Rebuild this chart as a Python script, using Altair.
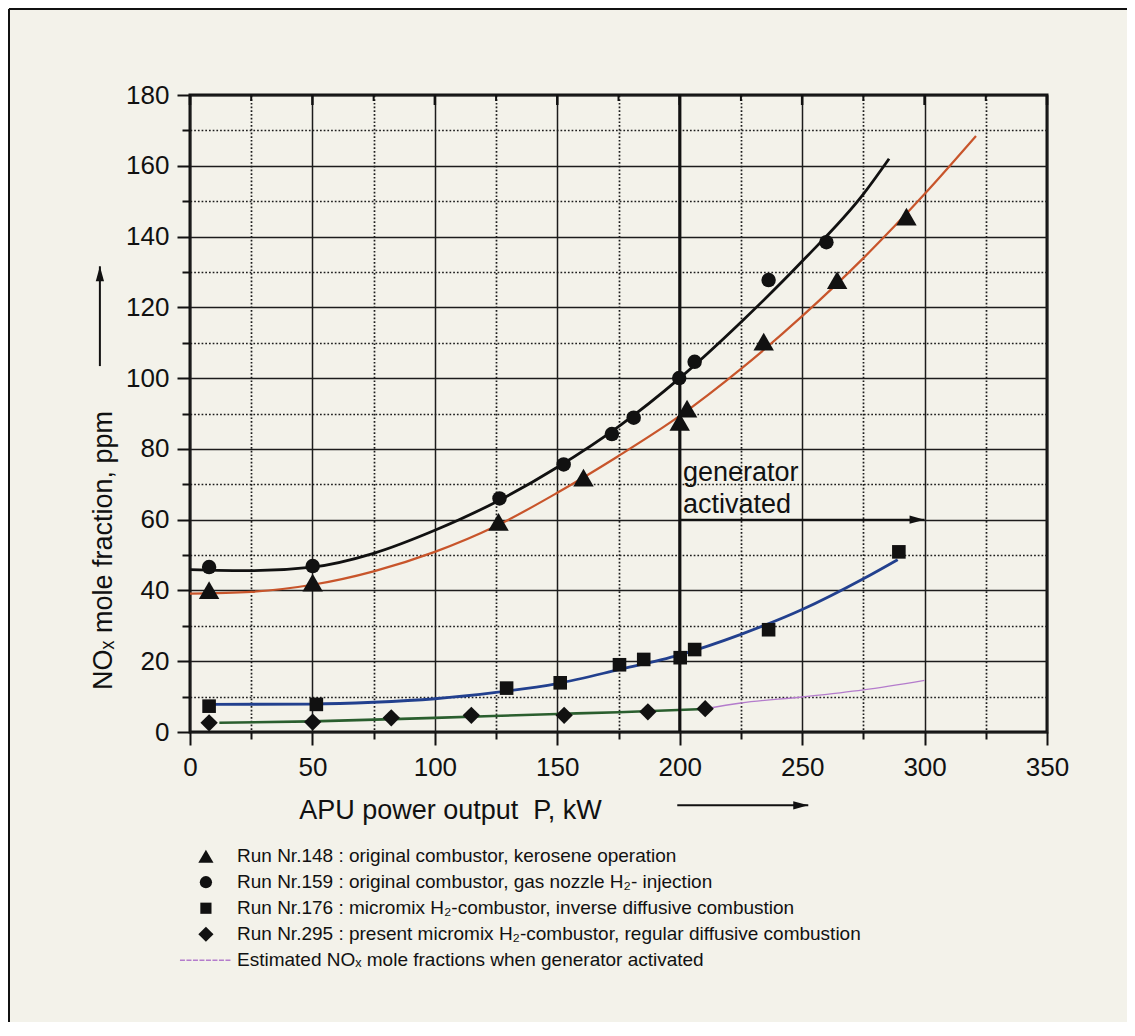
import altair as alt
import pandas as pd

# ---------------- data ----------------
# measured points (x = APU power output in kW, y = NOx mole fraction in ppm)
run148_x = [7.8, 50.1, 126.0, 160.7, 200.0, 203.0, 234.3, 264.3, 292.6]
run148_y = [40.1, 42.2, 59.4, 71.9, 87.6, 91.4, 110.3, 127.7, 145.6]
run159_x = [7.8, 50.1, 126.4, 152.6, 172.3, 181.2, 199.8, 206.1, 236.3, 259.9]
run159_y = [46.6, 46.9, 66.0, 75.6, 84.2, 88.8, 100.0, 104.6, 127.7, 138.4]
run176_x = [7.8, 51.6, 129.3, 151.2, 175.4, 185.3, 200.2, 206.1, 236.3, 289.5]
run176_y = [7.3, 7.8, 12.4, 13.9, 19.0, 20.5, 21.0, 23.3, 28.9, 50.9]
run295_x = [7.8, 50.1, 82.2, 114.9, 152.8, 187.0, 210.4]
run295_y = [2.6, 2.8, 4.0, 4.7, 4.7, 5.7, 6.6]

# fitted curves
fit148_x = [0, 25, 50, 75, 100, 125, 150, 175, 200, 225, 250, 275, 300, 321]
fit148_y = [39.1, 39.6, 41.6, 45.4, 50.9, 58.2, 67.6, 78.0, 89.3, 102.6, 117.5, 133.9, 152.0, 168.4]
fit159_x = [0, 25, 50, 75, 100, 125, 150, 175, 200, 225, 250, 275, 285.5]
fit159_y = [45.9, 45.6, 46.6, 50.5, 57.0, 65.0, 74.8, 86.3, 100.0, 115.8, 133.0, 152.0, 162.0]
fit176_x = [8, 50, 75, 100, 125, 150, 175, 200, 225, 250, 275, 289]
fit176_y = [7.8, 7.9, 8.4, 9.4, 11.2, 13.7, 17.6, 21.8, 27.6, 34.6, 43.3, 48.7]
fit295_x = [12, 50, 100, 150, 175, 210]
fit295_y = [2.6, 3.0, 4.0, 5.1, 5.6, 6.5]
est_x = [210, 225, 250, 275, 300]
est_y = [6.5, 8.2, 9.9, 11.9, 14.6]

series_labels = [
    "Run Nr.148 : original combustor, kerosene operation",
    "Run Nr.159 : original combustor, gas nozzle H\u2082- injection",
    "Run Nr.176 : micromix H\u2082-combustor, inverse diffusive combustion",
    "Run Nr.295 : present micromix H\u2082-combustor, regular diffusive combustion",
    "Estimated NO\u2093 mole fractions when generator activated",
]
marker_shapes = ["triangle-up", "circle", "square", "diamond"]

x_major = [0, 50, 100, 150, 200, 250, 300, 350]
x_minor = [25, 75, 125, 175, 225, 275, 325]
x_ticks = list(range(0, 351, 25))
y_ticks = list(range(0, 181, 10))

generator_x = 200
annot_lines = ["generator", "activated"]

# ---------------- styling / layout constants ----------------
FONT = "Liberation Sans"
INK = "#111111"
W, H = 857, 637
C148, C159, C176, C295, CEST = "#c8552b", INK, "#22408e", "#2a5e2e", "#b47ccc"
MARKER_SIZES = [420, 210, 185, 300]
LEGEND_SIZES = [230, 150, 125, 230]

# annotation / legend placement in data units of the axes
annot_x, annot_y = [201.3, 201.3], [71.0, 61.9]
arrow_x, arrow_x2, arrow_y = 200, 300, 60
leg_sym_x, leg_text_x, leg_line_x, leg_line_x2 = 6.5, 19.2, -4.1, 17.0
leg_top_y, leg_step = -35.1, 7.35

xs = alt.Scale(domain=[0, 350], nice=False, zero=False)
ys = alt.Scale(domain=[0, 180], nice=False, zero=False)

xaxis = alt.Axis(
    values=x_ticks,
    labelExpr="datum.value % 50 === 0 ? datum.label : ''",
    tickSize={"condition": {"test": "datum.value % 50 === 0", "value": 13}, "value": 7},
    tickWidth=2, tickColor=INK,
    labelFontSize=26, labelFont=FONT, labelColor=INK, labelPadding=9,
    labelFlush=False, labelOverlap=False,
    grid=True,
    gridDash={"condition": {"test": "datum.value % 50 === 0", "value": []}, "value": [1.7, 2.0]},
    gridWidth={"condition": {"test": "datum.value % 50 === 0", "value": 1.5}, "value": 1.7},
    gridColor="#1c1c1c", gridOpacity=1,
    domain=False,
    title="APU power output\u00a0 P, kW",
    titleFont=FONT, titleFontSize=27, titleFontWeight="normal", titleColor=INK,
    titleX=260, titleY=78, titleAlign="center", titleBaseline="middle", titleAnchor="start",
)
yaxis = alt.Axis(
    values=y_ticks,
    labelExpr="datum.value % 20 === 0 ? datum.label : ''",
    tickSize={"condition": {"test": "datum.value % 20 === 0", "value": 13}, "value": 8},
    tickWidth=2, tickColor=INK,
    labelFontSize=26, labelFont=FONT, labelColor=INK, labelPadding=8,
    labelFlush=False, labelOverlap=False,
    grid=True,
    gridDash={"condition": {"test": "datum.value % 20 === 0", "value": []}, "value": [1.7, 2.0]},
    gridWidth={"condition": {"test": "datum.value % 20 === 0", "value": 1.5}, "value": 1.7},
    gridColor="#1c1c1c", gridOpacity=1,
    domain=False,
    title="NO\u2093 mole fraction, ppm",
    titleFont=FONT, titleFontSize=27, titleFontWeight="normal", titleColor=INK,
    titleX=-87, titleY=455, titleAngle=270, titleAlign="center", titleBaseline="middle",
    titleAnchor="start",
)


def X(field="x"):
    return alt.X(f"{field}:Q", scale=xs, axis=xaxis)


def Y(field="y"):
    return alt.Y(f"{field}:Q", scale=ys, axis=yaxis)


def curve(xv, yv, color, width):
    return alt.Chart(pd.DataFrame({"x": xv, "y": yv})).mark_line(
        color=color, strokeWidth=width, interpolate="monotone").encode(x=X(), y=Y())


def markers(xv, yv, shape, size):
    return alt.Chart(pd.DataFrame({"x": xv, "y": yv})).mark_point(
        shape=shape, size=size, filled=True, color=INK, opacity=1).encode(x=X(), y=Y())


layers = []

# base layer carrying the axes and grid
layers.append(alt.Chart(pd.DataFrame({"x": [0], "y": [0]})).mark_point(opacity=0).encode(x=X(), y=Y()))

# top inward ticks
layers.append(alt.Chart(pd.DataFrame({"x": x_major, "y": [180] * len(x_major)})).mark_rule(
    color=INK, strokeWidth=2.5).encode(x=X(), y=Y(), y2=alt.value(10)))
layers.append(alt.Chart(pd.DataFrame({"x": x_minor, "y": [180] * len(x_minor)})).mark_rule(
    color=INK, strokeWidth=2).encode(x=X(), y=Y(), y2=alt.value(6)))

# fitted curves
layers += [
    curve(fit148_x, fit148_y, C148, 2.2),
    curve(fit159_x, fit159_y, C159, 2.8),
    curve(fit176_x, fit176_y, C176, 2.8),
    curve(fit295_x, fit295_y, C295, 2.6),
    curve(est_x, est_y, CEST, 1.4),
]

# generator line
layers.append(alt.Chart(pd.DataFrame({"x": [generator_x]})).mark_rule(
    color=INK, strokeWidth=3).encode(x=X()))

# measured points
for xv, yv, shp, sz in zip([run148_x, run159_x, run176_x, run295_x],
                           [run148_y, run159_y, run176_y, run295_y],
                           marker_shapes, MARKER_SIZES):
    layers.append(markers(xv, yv, shp, sz))

# annotation "generator activated" with arrow
head_right = "M-2,-0.55L0,0L-2,0.55Z"
head_up = "M-0.55,2L0,0L0.55,2Z"
layers.append(alt.Chart(pd.DataFrame({"x": annot_x, "y": annot_y, "t": annot_lines})).mark_text(
    font=FONT, fontSize=27, color=INK, align="left", baseline="alphabetic").encode(
    x=X(), y=Y(), text="t:N"))
layers.append(alt.Chart(pd.DataFrame({"x": [arrow_x], "x2": [arrow_x2], "y": [arrow_y]})).mark_rule(
    color=INK, strokeWidth=2).encode(x=X(), x2="x2:Q", y=Y()))
layers.append(alt.Chart(pd.DataFrame({"x": [arrow_x2], "y": [arrow_y]})).mark_point(
    shape=head_right, size=225, filled=True, color=INK, opacity=1).encode(x=X(), y=Y()))

# arrows next to the axis titles
layers.append(alt.Chart(pd.DataFrame({"x": [199.0], "x2": [252.5], "y": [-20.7]})).mark_rule(
    color=INK, strokeWidth=2).encode(x=X(), x2="x2:Q", y=Y()))
layers.append(alt.Chart(pd.DataFrame({"x": [252.5], "y": [-20.7]})).mark_point(
    shape=head_right, size=225, filled=True, color=INK, opacity=1).encode(x=X(), y=Y()))
layers.append(alt.Chart(pd.DataFrame({"x": [-36.8], "y": [103.4], "y2": [131.6]})).mark_rule(
    color=INK, strokeWidth=2).encode(x=X(), y=Y(), y2="y2:Q"))
layers.append(alt.Chart(pd.DataFrame({"x": [-36.8], "y": [131.6]})).mark_point(
    shape=head_up, size=225, filled=True, color=INK, opacity=1).encode(x=X(), y=Y()))

# legend below the plot
leg_rows_y = [leg_top_y - i * leg_step for i in range(len(series_labels))]
for i, (shp, sz) in enumerate(zip(marker_shapes, LEGEND_SIZES)):
    layers.append(alt.Chart(pd.DataFrame({"x": [leg_sym_x], "y": [leg_rows_y[i]]})).mark_point(
        shape=shp, size=sz, filled=True, color=INK, opacity=1).encode(x=X(), y=Y()))
layers.append(alt.Chart(pd.DataFrame({"x": [leg_line_x], "x2": [leg_line_x2], "y": [leg_rows_y[4]]})).mark_rule(
    color=CEST, strokeWidth=1.4, strokeDash=[5, 1.5]).encode(x=X(), x2="x2:Q", y=Y()))
layers.append(alt.Chart(pd.DataFrame({"x": [leg_text_x] * len(series_labels), "y": leg_rows_y,
                                      "t": series_labels})).mark_text(
    font=FONT, fontSize=19, color=INK, align="left", baseline="middle").encode(
    x=X(), y=Y(), text="t:N"))

# outer page frame of the scanned figure (decoration)
layers.append(alt.Chart(pd.DataFrame({"x": [0]})).mark_rule(color=INK, strokeWidth=2).encode(
    x=alt.value(-181), x2=alt.value(945), y=alt.value(-86)))
layers.append(alt.Chart(pd.DataFrame({"x": [0]})).mark_rule(color=INK, strokeWidth=2).encode(
    x=alt.value(-181), y=alt.value(-86), y2=alt.value(941)))

chart = alt.layer(*layers).properties(
    width=W, height=H,
    autosize=alt.AutoSizeParams(type="none"),
    padding={"left": 182, "top": 87, "right": 80, "bottom": 290},
    background="#f3f2ea",
).configure(font=FONT).configure_view(stroke=INK, strokeWidth=3)

chart.save("out.html", embed_options={"renderer": "svg", "actions": False})
